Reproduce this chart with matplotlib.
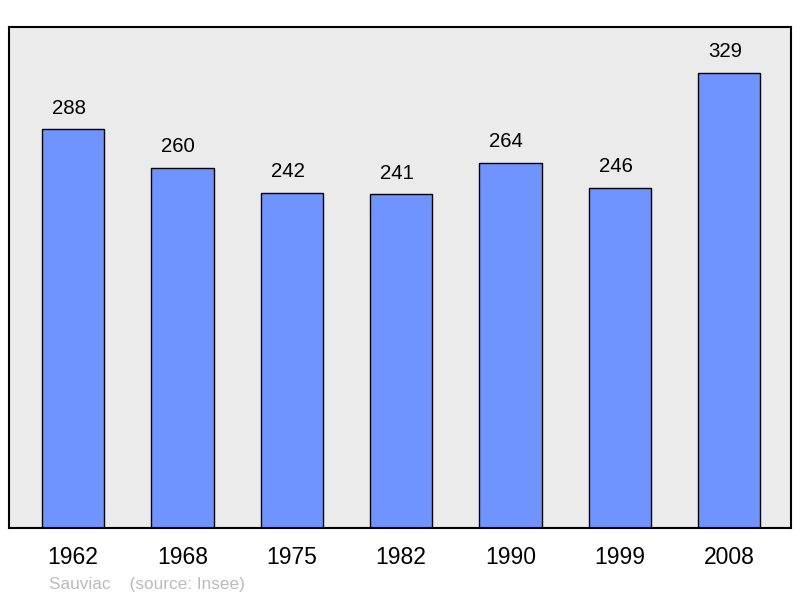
import matplotlib
matplotlib.use("Agg")
import matplotlib.pyplot as plt

years = ["1962", "1968", "1975", "1982", "1990", "1999", "2008"]
population = [288, 260, 242, 241, 264, 246, 329]

plt.rcParams['font.family'] = ['Liberation Sans', 'DejaVu Sans']

fig = plt.figure(figsize=(8, 5.98), dpi=100)
ax = fig.add_axes([9/800, 70/598, 782/800, 501/598])
ax.set_facecolor('#EBEBEB')
x = list(range(len(years)))
ax.bar(x, population, width=0.57, color='#7094FF', edgecolor='black', linewidth=1.0, zorder=2)
for xi, v in zip(x, population):
    ax.annotate(str(v), (xi, v), xytext=(-3, 15.3), textcoords='offset points',
                ha='center', va='center', fontsize=14.7)
ax.set_xlim(-0.585, 6.565)
ax.set_ylim(0, 362)
ax.set_yticks([])
ax.set_xticks(x)
ax.set_xticklabels(years, fontsize=16.5)
ax.tick_params(axis='x', length=0, pad=13)
for s in ax.spines.values():
    s.set_linewidth(1.5)
fig.text(49/800, 1 - 584.5/598, "Sauviac    (source: Insee)", fontsize=12.4, color='#BBBBBB',
         ha='left', va='center')
fig.savefig('out.png', dpi=100)
